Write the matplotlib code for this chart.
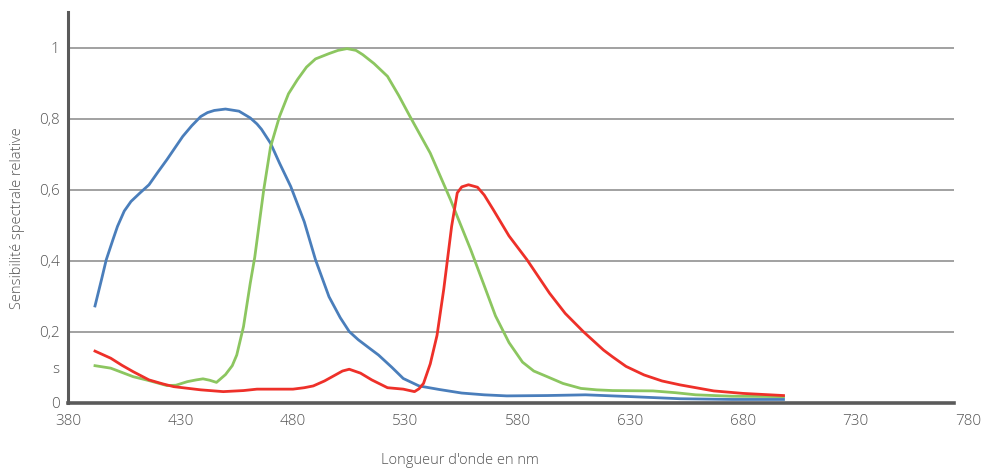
import matplotlib
matplotlib.use("Agg")
import matplotlib.pyplot as plt

plt.rcParams['font.family'] = ['Open Sans', 'DejaVu Sans']

# ---- data ----
blue_x = [392, 395, 397, 400, 402, 405, 408, 412, 416, 420, 424, 431, 435, 439, 442, 445,
          450, 456, 461, 464, 466, 470, 474, 479, 485, 490, 496, 501, 505, 509, 514, 518,
          524, 529, 536, 545, 555, 565, 575, 593, 610, 630, 652, 675, 698]
blue_y = [0.273, 0.350, 0.403, 0.460, 0.497, 0.540, 0.567, 0.591, 0.614, 0.650, 0.685,
          0.750, 0.780, 0.806, 0.817, 0.823, 0.827, 0.821, 0.802, 0.785, 0.770, 0.731,
          0.675, 0.609, 0.510, 0.403, 0.299, 0.240, 0.201, 0.178, 0.154, 0.135, 0.100,
          0.069, 0.048, 0.038, 0.028, 0.023, 0.020, 0.021, 0.023, 0.018, 0.012, 0.010,
          0.010]

green_x = [392, 399, 404, 409, 416, 420, 424, 428, 433, 437, 440, 443, 446, 450, 453,
           455, 458, 461, 463, 467, 470, 474, 478, 482, 486, 490, 496, 500, 504, 508,
           511, 516, 522, 527, 532, 541, 550, 559, 565, 570, 576, 582, 587, 593, 600,
           608, 615, 622, 640, 650, 659, 675, 698]
green_y = [0.105, 0.098, 0.086, 0.074, 0.063, 0.056, 0.049, 0.050, 0.060, 0.065, 0.068,
           0.064, 0.058, 0.080, 0.105, 0.135, 0.215, 0.337, 0.410, 0.600, 0.720, 0.806,
           0.870, 0.910, 0.945, 0.968, 0.983, 0.992, 0.997, 0.992, 0.980, 0.955, 0.919,
           0.865, 0.806, 0.703, 0.572, 0.431, 0.330, 0.245, 0.170, 0.115, 0.090, 0.074,
           0.055, 0.041, 0.037, 0.035, 0.034, 0.029, 0.023, 0.019, 0.018]

red_x = [392, 399, 404, 409, 416, 422, 427, 439, 449, 458, 464, 472, 480, 485, 489, 494,
         498, 502, 505, 510, 515, 522, 529, 534, 536, 538, 541, 544, 547, 550.5, 553,
         555, 558, 562, 565, 569, 576, 584, 594, 601, 609, 618, 622, 628, 636, 644, 652,
         667, 680, 698]
red_y = [0.146, 0.126, 0.106, 0.088, 0.065, 0.054, 0.046, 0.037, 0.032, 0.035, 0.039,
         0.039, 0.039, 0.043, 0.048, 0.062, 0.076, 0.090, 0.095, 0.084, 0.065, 0.043,
         0.039, 0.032, 0.040, 0.055, 0.110, 0.190, 0.320, 0.497, 0.591, 0.608, 0.614,
         0.607, 0.585, 0.544, 0.470, 0.403, 0.309, 0.252, 0.201, 0.149, 0.130, 0.103,
         0.079, 0.062, 0.051, 0.034, 0.027, 0.021]

x_ticks = [380, 430, 480, 530, 580, 630, 680, 730, 780]
y_ticks = [0, 0.1, 0.2, 0.4, 0.6, 0.8, 1.0]
y_tick_labels = ['0', 's', '0,2', '0,4', '0,6', '0,8', '1']
grid_levels = [0.2, 0.4, 0.6, 0.8, 1.0]

x_label = "Longueur d'onde en nm"
y_label = "Sensibilité spectrale relative"

# ---- figure ----
W, H = 985, 470
fig = plt.figure(figsize=(W / 100, H / 100), dpi=100)
left_px, right_px, top_px, bottom_px = 68, 968, 12, 403
ax = fig.add_axes([left_px / W, 1 - bottom_px / H,
                   (right_px - left_px) / W, (bottom_px - top_px) / H])

ax.set_xlim(380, 780)
ax.set_ylim(0, 1.1)

grid_end = 774
ax.hlines(grid_levels, 380, grid_end, colors='#9a9a9a', linewidth=1.3, zorder=1)

ax.plot(blue_x, blue_y, color='#4A7EBB', linewidth=2.0, zorder=3,
        solid_joinstyle='round')
ax.plot(green_x, green_y, color='#8CC660', linewidth=2.0, zorder=3,
        solid_joinstyle='round')
ax.plot(red_x, red_y, color='#EE3029', linewidth=2.0, zorder=4,
        solid_joinstyle='round')

for s in ['top', 'right']:
    ax.spines[s].set_visible(False)
ax.spines['left'].set_color('#5a5a5a')
ax.spines['left'].set_linewidth(2.2)
ax.spines['bottom'].set_color('#5a5a5a')
ax.spines['bottom'].set_linewidth(2.6)
ax.spines['bottom'].set_bounds(380, grid_end)

txt_color = '#555555'
ax.set_xticks(x_ticks)
ax.set_xticklabels([str(v) for v in x_ticks])
ax.set_yticks(y_ticks)
ax.set_yticklabels(y_tick_labels)
ax.tick_params(axis='both', length=0, labelsize=11, colors=txt_color)
ax.tick_params(axis='x', pad=8)
ax.tick_params(axis='y', pad=6)
for lab in ax.get_xticklabels() + ax.get_yticklabels():
    lab.set_fontweight('light')

fig.text(18 / W, 1 - 218 / H, y_label, rotation=90, ha='center', va='center',
         fontsize=10.5, color=txt_color, fontweight='light')
fig.text(460 / W, 1 - 461 / H, x_label, ha='center', va='center',
         fontsize=10.5, color=txt_color, fontweight='light')

fig.savefig('out.png', dpi=100)
